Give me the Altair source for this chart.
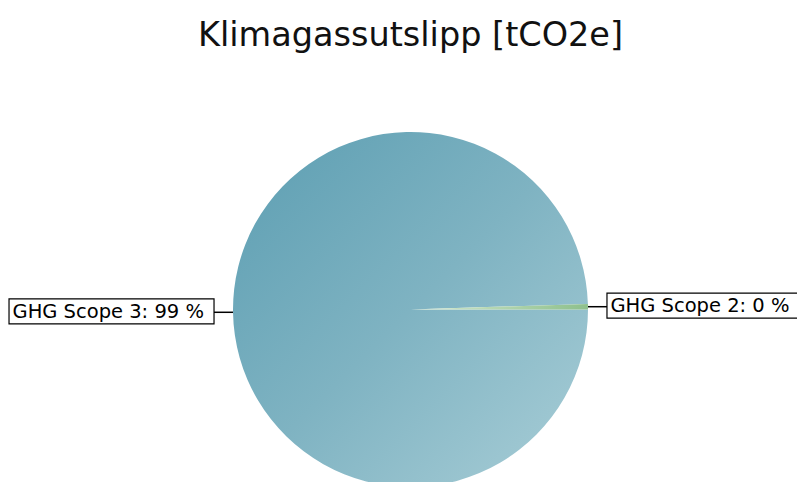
import altair as alt
import pandas as pd

# ---- data ----
categories = ["GHG Scope 3", "GHG Scope 2"]
values = [99.5, 0.5]
order = [0, 1]

df = pd.DataFrame({"category": categories, "value": values, "idx": order})

# ---- layout constants (pixels, plot-group coordinates) ----
TOP = 136
W, H = 797, 482 - TOP
CX, CY = 410.5, 309.5 - TOP
R = 177.5
LEAD = 19
BOXW = 205

base = (
    alt.Chart(df)
    .transform_joinaggregate(total="sum(value)")
    .transform_window(cum="sum(value)", sort=[alt.SortField("idx")], frame=[None, 0])
    .transform_calculate(
        t1=f"PI/2 + 2*PI*datum.cum/datum.total",
        t0=f"PI/2 + 2*PI*(datum.cum - datum.value)/datum.total",
    )
    .transform_calculate(mid="(datum.t0 + datum.t1)/2")
    .transform_calculate(
        side="sin(datum.mid) < 0 ? -1 : 1",
        ex=f"{CX} + {R}*sin(datum.mid)",
        ey=f"{CY} - {R}*cos(datum.mid)",
        label="datum.category + ': ' + floor(100*datum.value/datum.total) + ' %'",
    )
    .transform_calculate(lx=f"datum.ex + datum.side*{LEAD}")
    .transform_calculate(bx0=f"datum.side < 0 ? datum.lx - {BOXW} : datum.lx")
    .transform_calculate(
        bx1=f"datum.bx0 + {BOXW}",
        by0="datum.ey - 13.5",
        by1="datum.ey + 11.5",
        tx="datum.bx0 + 3.5",
        ty="datum.ey - 0.5",
    )
)

grad3 = alt.LinearGradient(
    gradient="linear",
    x1=0, y1=0, x2=1, y2=1,
    stops=[
        alt.GradientStop(offset=0, color="#5c9eb2"),
        alt.GradientStop(offset=0.5, color="#7fb3c2"),
        alt.GradientStop(offset=1, color="#a9ced7"),
    ],
)
grad2 = alt.LinearGradient(
    gradient="linear",
    x1=0, y1=0, x2=1, y2=0,
    stops=[
        alt.GradientStop(offset=0, color="#d6ead2"),
        alt.GradientStop(offset=1, color="#8ec08c"),
    ],
)

arc3 = base.transform_filter(alt.datum.idx == 0).mark_arc(
    outerRadius=R, fill=grad3
).encode(
    theta=alt.Theta("t0:Q", scale=None),
    theta2="t1:Q",
    x=alt.value(CX),
    y=alt.value(CY),
)
arc2 = base.transform_filter(alt.datum.idx == 1).mark_arc(
    outerRadius=R, fill=grad2
).encode(
    theta=alt.Theta("t0:Q", scale=None),
    theta2="t1:Q",
    x=alt.value(CX),
    y=alt.value(CY),
)

leaders = base.mark_rule(color="black", strokeWidth=1.5).encode(
    x=alt.X("ex:Q", scale=None),
    x2="lx:Q",
    y=alt.Y("ey:Q", scale=None),
)

boxes = base.mark_rect(fill="white", stroke="black", strokeWidth=1.2).encode(
    x=alt.X("bx0:Q", scale=None),
    x2="bx1:Q",
    y=alt.Y("by0:Q", scale=None),
    y2="by1:Q",
)

labels = base.mark_text(
    align="left", baseline="middle", font="DejaVu Sans", fontSize=19.5, color="black"
).encode(
    x=alt.X("tx:Q", scale=None),
    y=alt.Y("ty:Q", scale=None),
    text="label:N",
)

chart = (
    alt.layer(arc3, arc2, leaders, boxes, labels)
    .properties(
        width=W,
        height=H,
        padding={"top": TOP, "left": 0, "right": 0, "bottom": 0},
        autosize=alt.AutoSizeParams(type="none"),
        background="white",
        title=alt.TitleParams(
            "Klimagassutslipp [tCO2e]",
            font="DejaVu Sans",
            fontSize=33.5,
            fontWeight="normal",
            color="#111111",
            anchor="middle",
            frame="group",
            baseline="alphabetic",
            offset=52.5,
            dx=12,
        ),
    )
    .configure_view(stroke=None)
)

chart.save("out.html", embed_options={"renderer": "svg", "actions": False})
